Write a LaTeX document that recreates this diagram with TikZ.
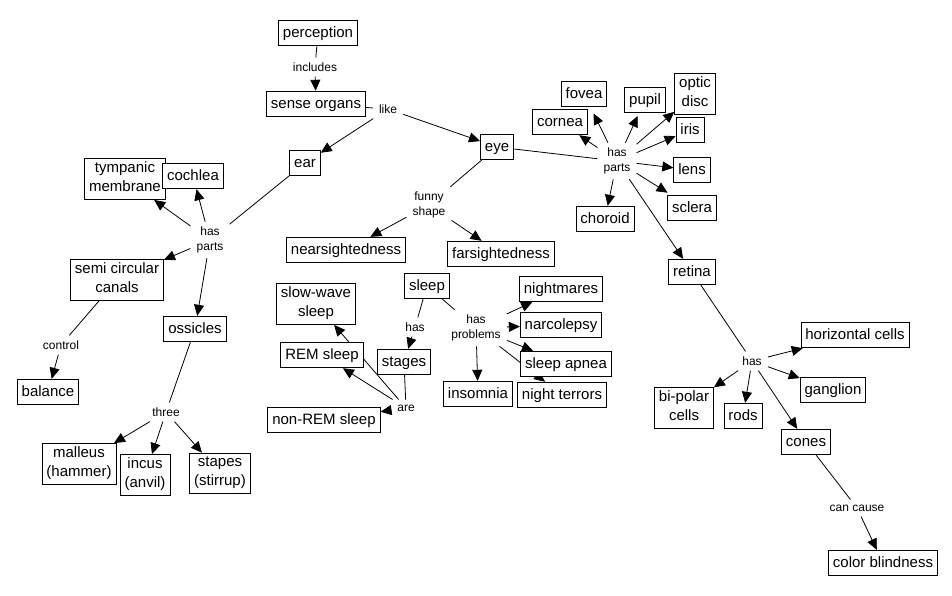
\documentclass[tikz,border=0pt]{standalone}
\usepackage{fontspec}
\setmainfont{Liberation Sans}
\usetikzlibrary{arrows.meta}
\pgfdeclarelayer{bg}
\pgfsetlayers{bg,main}
\newcommand{\boxstrut}{\rule[-4.6pt]{0pt}{19pt}}
\begin{document}
\begin{tikzpicture}[x=1pt,y=-1pt,
  box/.style={draw,fill=white,line width=0.8pt,font=\fontsize{15}{19}\selectfont,align=center,
    inner xsep=4.5pt,inner ysep=3.3pt,execute at begin node=\boxstrut,execute at end node=\boxstrut},
  lbl/.style={font=\fontsize{12}{15}\selectfont,align=center,inner xsep=6pt,inner ysep=5pt},
  ln/.style={line width=0.8pt},
  ar/.style={line width=0.8pt,-{Triangle[length=11pt,width=10pt]}}]
\useasboundingbox (0,0) rectangle (952,595);

% --- top
\node[box] (perc) at (318,33) {perception};
\node[lbl] (inc) at (315,67) {includes};
\node[box] (so) at (316,104) {sense organs};
\node[lbl] (like) at (388,109) {like};
\node[box] (ear) at (305,163) {ear};
\node[box] (eye) at (497,147) {eye};
\node[lbl] (funny) at (429,205) {funny\\shape};
\node[box] (near) at (346,250) {nearsightedness};
\node[box] (far) at (501,254) {farsightedness};

% --- ear
\node[box] (tymp) at (125,179) {tympanic\\membrane};
\node[box] (coch) at (193,176) {cochlea};
\node[lbl] (hpe) at (210,240) {has\\parts};
\node[box] (semi) at (117,280) {semi circular\\canals};
\node[box] (ossi) at (195,329) {ossicles};
\node[lbl] (ctrl) at (61,345) {control};
\node[box] (bal) at (48,392) {balance};
\node[lbl] (three) at (166,412) {three};
\node[box] (mall) at (79,464) {malleus\\(hammer)};
\node[box] (incus) at (145,475) {incus\\(anvil)};
\node[box] (stap) at (220,473) {stapes\\(stirrup)};

% --- sleep
\node[box] (sleep) at (427,286) {sleep};
\node[lbl] (hs) at (415,327) {has};
\node[box] (stag) at (404,362) {stages};
\node[lbl] (hprob) at (476,328) {has\\problems};
\node[box] (night) at (561,289) {nightmares};
\node[box] (narc) at (561,325) {narcolepsy};
\node[box] (apnea) at (566,364) {sleep apnea};
\node[box] (terr) at (562,395) {night terrors};
\node[box] (insom) at (478,394) {insomnia};
\node[box] (sws) at (316,304) {slow-wave\\sleep};
\node[box] (rem) at (322,355) {REM sleep};
\node[lbl] (are) at (406,408) {are};
\node[box] (nrem) at (324,420) {non-REM sleep};

% --- eye
\node[box] (fovea) at (584,94) {fovea};
\node[box] (corn) at (560,122) {cornea};
\node[box] (pupil) at (645,100) {pupil};
\node[box] (optic) at (695,94) {optic\\disc};
\node[box] (iris) at (690,130) {iris};
\node[lbl] (hpy) at (617,161) {has\\parts};
\node[box] (lens) at (692,170) {lens};
\node[box] (scl) at (692,208) {sclera};
\node[box] (chor) at (605,219) {choroid};
\node[box] (ret) at (692,272) {retina};
\node[lbl] (hr) at (752,361) {has};
\node[box] (hor) at (855,335) {horizontal cells};
\node[box] (gang) at (833,390) {ganglion};
\node[box] (bip) at (684,408) {bi-polar\\cells};
\node[box] (rods) at (743,416) {rods};
\node[box] (cones) at (806,442) {cones};
\node[lbl] (cc) at (857,508) {can cause};
\node[box] (cb) at (883,563) {color blindness};

\begin{pgfonlayer}{bg}
\fill[white] (0,0) rectangle (952,595);
\draw[ln] (perc) -- (inc);
\draw[ar] (inc) -- (so);
\draw[ln] (so) -- (like);
\draw[ar] (like) -- (ear);
\draw[ar] (like) -- (eye);
\draw[ln] (eye) -- (funny);
\draw[ar] (funny) -- (near);
\draw[ar] (funny) -- (far);

\draw[ln] (ear) -- (hpe);
\draw[ar] (hpe) -- (tymp);
\draw[ar] (hpe) -- (coch);
\draw[ar] (hpe) -- (semi);
\draw[ar] (hpe) -- (ossi);
\draw[ln] (semi) -- (ctrl);
\draw[ar] (ctrl) -- (bal);
\draw[ln] (ossi) -- (three);
\draw[ar] (three) -- (mall);
\draw[ar] (three) -- (incus);
\draw[ar] (three) -- (stap);

\draw[ln] (sleep) -- (hs);
\draw[ar] (hs) -- (stag);
\draw[ln] (sleep) -- (hprob);
\draw[ar] (hprob) -- (night);
\draw[ar] (hprob) -- (narc);
\draw[ar] (hprob) -- (apnea);
\draw[ar] (hprob) -- (terr);
\draw[ar] (hprob) -- (insom);
\draw[ln] (stag) -- (are);
\draw[ar] (are) -- (rem);
\draw[ar] (are) -- (sws);
\draw[ar] (are) -- (nrem);

\draw[ln] (eye) -- (hpy);
\draw[ar,shorten >=7pt] (hpy) -- (fovea);
\draw[ar] (hpy) -- (corn);
\draw[ar,shorten >=3pt] (hpy) -- (pupil);
\draw[ar] (hpy) -- (optic);
\draw[ar] (hpy) -- (iris);
\draw[ar] (hpy) -- (lens);
\draw[ar,shorten >=4pt] (hpy) -- (scl);
\draw[ar] (hpy) -- (chor);
\draw[ar] (hpy) -- (ret);
\draw[ln] (ret) -- (hr);
\draw[ar] (hr) -- (hor);
\draw[ar] (hr) -- (gang);
\draw[ar] (hr) -- (bip);
\draw[ar] (hr) -- (rods);
\draw[ar] (hr) -- (cones);
\draw[ln] (cones) -- (cc);
\draw[ar] (cc) -- (cb);
\end{pgfonlayer}
\end{tikzpicture}
\end{document}
